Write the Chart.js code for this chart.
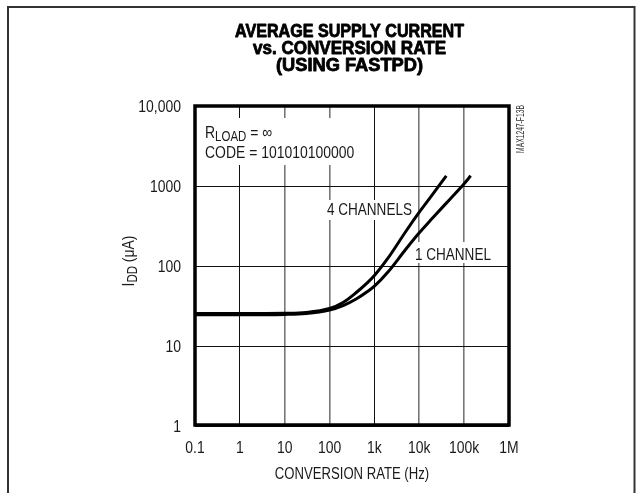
<!DOCTYPE html>
<html><head><meta charset="utf-8">
<script src="https://cdn.jsdelivr.net/npm/chart.js@4.4.1/dist/chart.umd.min.js"></script>
<style>html,body{margin:0;padding:0;background:#fff;overflow:hidden}</style>
</head><body>
<canvas id="c" width="638" height="493"></canvas>
<script>
// ---- data ----
const titleLines = ['AVERAGE SUPPLY CURRENT', 'vs. CONVERSION RATE', '(USING FASTPD)'];
const xTickValues = [0.1, 1, 10, 100, 1e3, 1e4, 1e5, 1e6];
const xTickLabels = ['0.1', '1', '10', '100', '1k', '10k', '100k', '1M'];
const yTickValues = [1, 10, 100, 1000, 10000];
const yTickLabels = ['1', '10', '100', '1000', '10,000'];
const seriesNames = ['4 CHANNELS', '1 CHANNEL'];
const freq4ch = [0.1, 1, 10, 30, 100, 200, 400, 700, 1000, 2000, 5000, 10000, 20000, 40000];
const idd4ch  = [25.5, 25.5, 25.7, 26.3, 29.5, 35, 47, 62, 76, 125, 270, 470, 790, 1340];
const freq1ch = [0.1, 1, 10, 30, 100, 200, 400, 700, 1000, 2000, 5000, 10000, 20000, 50000, 100000, 140000];
const idd1ch  = [24.5, 24.5, 24.8, 25.5, 28.2, 32, 39, 48, 56, 84, 162, 260, 400, 700, 1070, 1340];
const xAxisTitle = 'CONVERSION RATE (Hz)';
const yAxisTitleRuns = [['I', 0], ['DD', 1], [' (\u03bcA)', 0]];
const loadRuns = [['R', 0], ['LOAD', 1], [' = \u221e', 0]];
const codeText = 'CODE = 101010100000';
const figId = 'MAX1247-F13B';

const FONT = '"Liberation Sans", Arial, sans-serif';
const NARROW = 0.82;
const TXT = '#1a1a1a';

function text(ctx, t, x, y, size, align, sx, bold, heavy) {
  ctx.save();
  ctx.translate(x, y);
  ctx.scale(sx, 1);
  ctx.font = (bold ? 'bold ' : '') + size + 'px ' + FONT;
  ctx.textAlign = align;
  ctx.textBaseline = 'alphabetic';
  ctx.fillText(t, 0, 0);
  if (heavy) {
    ctx.strokeStyle = ctx.fillStyle;
    ctx.lineWidth = heavy;
    ctx.lineJoin = 'round';
    ctx.strokeText(t, 0, 0);
  }
  ctx.restore();
}
function runsWidth(ctx, runs, big, small) {
  let w = 0;
  for (const [t, sub] of runs) { ctx.font = (sub ? small : big) + 'px ' + FONT; w += ctx.measureText(t).width; }
  return w;
}
function drawRuns(ctx, runs, big, small, dy) {
  let x = 0;
  ctx.textAlign = 'left';
  ctx.textBaseline = 'alphabetic';
  for (const [t, sub] of runs) {
    ctx.font = (sub ? small : big) + 'px ' + FONT;
    ctx.fillText(t, x, sub ? dy : 0);
    x += ctx.measureText(t).width;
  }
}

const decor = {
  id: 'decor',
  beforeDraw(chart) {
    const ctx = chart.ctx;
    ctx.save();
    ctx.fillStyle = '#fff';
    ctx.fillRect(0, 0, chart.width, chart.height);
    ctx.strokeStyle = '#333';
    ctx.lineWidth = 2;
    ctx.strokeRect(8, 7, 626.5, 600);
    ctx.restore();
  },
  beforeDatasetsDraw(chart) {
    const ctx = chart.ctx, a = chart.chartArea;
    ctx.save();
    ctx.fillStyle = '#fff';
    ctx.fillRect(a.left + 3, a.top + 12, 160, 47);
    ctx.fillRect(a.left + 129, a.top + 94, 90, 20);
    ctx.fillRect(a.left + 218, a.top + 136, 79, 21);
    ctx.fillStyle = TXT;
    ctx.save();
    ctx.translate(a.left + 10, a.top + 31.5);
    ctx.scale(NARROW, 1);
    drawRuns(ctx, loadRuns, 17, 14, 3);
    ctx.restore();
    text(ctx, codeText, a.left + 10, a.top + 51.5, 17, 'left', NARROW);
    text(ctx, seriesNames[0], a.left + 132, a.top + 109, 16.5, 'left', NARROW);
    text(ctx, seriesNames[1], a.left + 220, a.top + 154, 16.5, 'left', NARROW);
    ctx.restore();
  },
  afterDatasetsDraw(chart) {
    const ctx = chart.ctx, a = chart.chartArea;
    ctx.save();
    ctx.strokeStyle = '#000';
    ctx.lineWidth = 3.5;
    ctx.strokeRect(a.left, a.top, a.right - a.left, a.bottom - a.top - 1);
    ctx.restore();
  },
  afterDraw(chart) {
    const ctx = chart.ctx, a = chart.chartArea;
    const xs = chart.scales.x, ys = chart.scales.y;
    ctx.save();
    // title, each line fitted to its width in the reference
    ctx.fillStyle = '#000';
    const base = [36.7, 54, 71.3];
    const widths = [229, 193, 147];
    titleLines.forEach((t, i) => {
      ctx.font = 'bold 17.5px ' + FONT;
      const w = ctx.measureText(t).width;
      text(ctx, t, 349.5, base[i], 17.5, 'center', widths[i] / w, true, 0.8);
    });
    ctx.fillStyle = TXT;
    // tick labels through the scales
    xTickValues.forEach((v, i) => text(ctx, xTickLabels[i], xs.getPixelForValue(v), 453, 17, 'center', NARROW));
    yTickValues.forEach((v, i) => text(ctx, yTickLabels[i], a.left - 14, ys.getPixelForValue(v) + 6.2, 17, 'right', NARROW));
    // x axis title
    text(ctx, xAxisTitle, (a.left + a.right) / 2, 479, 16, 'center', NARROW);
    // y axis title (rotated)
    ctx.save();
    const w = runsWidth(ctx, yAxisTitleRuns, 17, 14) * NARROW;
    ctx.translate(134, (a.top + a.bottom) / 2 - 5 + w / 2);
    ctx.rotate(-Math.PI / 2);
    ctx.scale(NARROW, 1);
    drawRuns(ctx, yAxisTitleRuns, 17, 14, 3);
    ctx.restore();
    // figure id
    ctx.save();
    ctx.fillStyle = '#333';
    ctx.translate(524, 129);
    ctx.rotate(-Math.PI / 2);
    ctx.scale(0.64, 1);
    ctx.font = '10.5px ' + FONT;
    ctx.textAlign = 'center';
    ctx.fillText(figId, 0, 0);
    ctx.restore();
    ctx.restore();
  }
};

const xGridDark = [true, true, false, false, true, false, false, true];

new Chart(document.getElementById('c'), {
  type: 'scatter',
  data: {
    datasets: [
      { label: seriesNames[0], data: freq4ch.map((f, i) => ({ x: f, y: idd4ch[i] })),
        showLine: true, borderColor: '#000', borderWidth: 3, pointRadius: 0,
        cubicInterpolationMode: 'monotone', fill: false },
      { label: seriesNames[1], data: freq1ch.map((f, i) => ({ x: f, y: idd1ch[i] })),
        showLine: true, borderColor: '#000', borderWidth: 3, pointRadius: 0,
        cubicInterpolationMode: 'monotone', fill: false }
    ]
  },
  options: {
    responsive: false, animation: false, devicePixelRatio: 1, events: [],
    layout: { padding: { left: 0, right: 129, top: 106, bottom: 0 } },
    plugins: { legend: { display: false }, title: { display: false }, tooltip: { enabled: false } },
    scales: {
      x: {
        type: 'logarithmic', position: 'bottom', min: 0.1, max: 1e6,
        afterBuildTicks: s => { s.ticks = xTickValues.map(v => ({ value: v })); },
        afterFit: s => { s.height = 67; },
        ticks: { display: false, autoSkip: false, maxRotation: 0, minRotation: 0 },
        grid: { drawTicks: false,
                color: c => xGridDark[c.index] ? '#111' : '#777',
                lineWidth: c => xGridDark[c.index] ? 1 : 1.6 },
        border: { display: false }
      },
      y: {
        type: 'logarithmic', position: 'left', min: 1, max: 10000,
        afterBuildTicks: s => { s.ticks = yTickValues.map(v => ({ value: v })); },
        afterFit: s => { s.width = 195; },
        ticks: { display: false, autoSkip: false },
        grid: { drawTicks: false, color: '#111', lineWidth: 1 },
        border: { display: false }
      }
    }
  },
  plugins: [decor]
});
</script>
</body></html>
